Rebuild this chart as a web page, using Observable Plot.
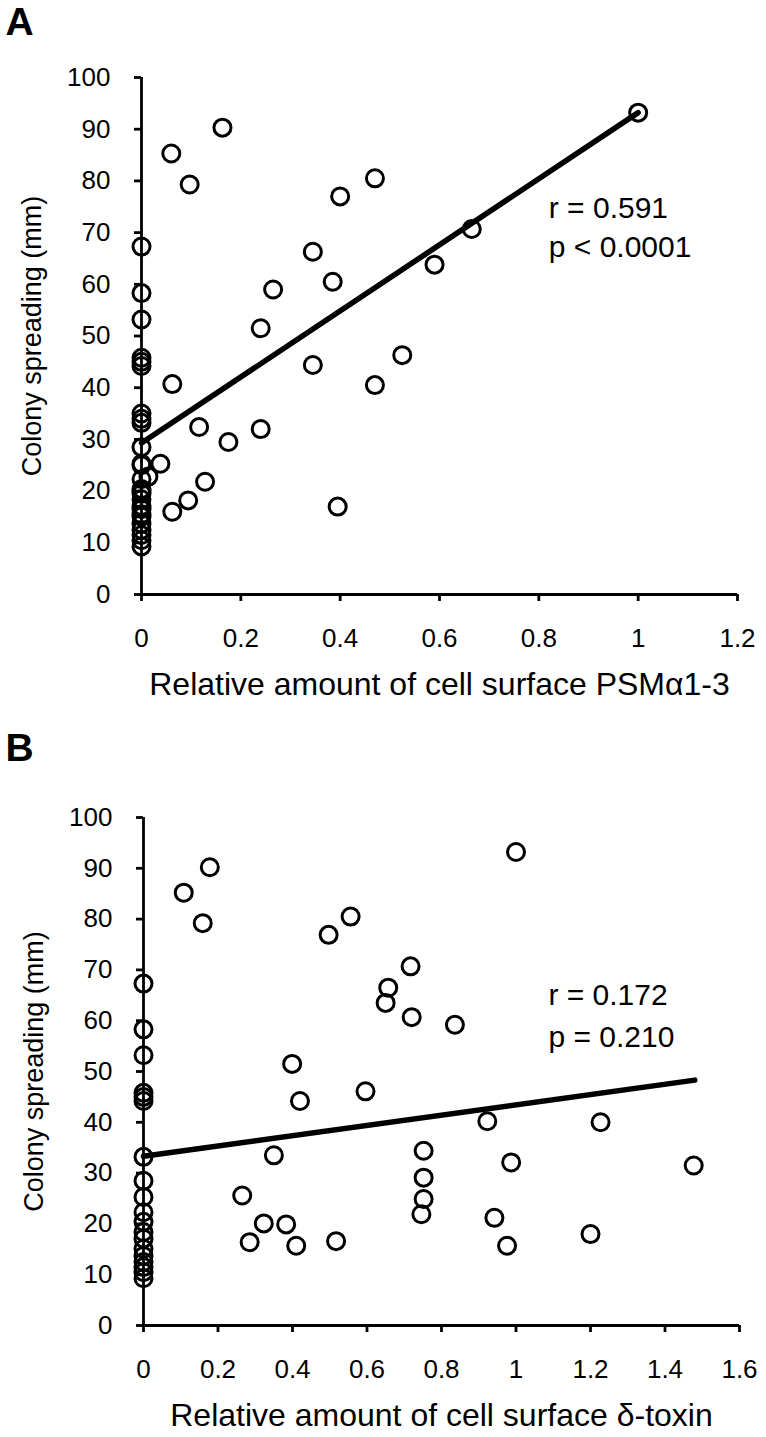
<!DOCTYPE html>
<html><head><meta charset="utf-8">
<script src="https://cdn.jsdelivr.net/npm/d3@7"></script>
<script src="https://cdn.jsdelivr.net/npm/@observablehq/plot@0.6"></script>
<style>
body{margin:0;background:#fff}
#chart svg{display:block}
</style>
</head><body><div id="chart"></div>
<script>
// ---- tick labels ----
const yTicks = [0, 10, 20, 30, 40, 50, 60, 70, 80, 90, 100];
const xTicksA = [0, 0.2, 0.4, 0.6, 0.8, 1, 1.2];
const xTicksB = [0, 0.2, 0.4, 0.6, 0.8, 1, 1.2, 1.4, 1.6];

// ---- panel A: relative amount of cell surface PSMα1-3 vs colony spreading ----
const psmAmount = [
  1.0, 0.665, 0.59, 0.47, 0.40, 0.345, 0.385, 0.265, 0.24, 0.345, 0.525, 0.47, 0.395,
  0.24, 0.175, 0.163, 0.06, 0.097, 0.062, 0.116, 0.038, 0.014, 0.128, 0.094, 0.062,
  0, 0, 0, 0, 0, 0, 0, 0, 0, 0, 0, 0, 0, 0, 0, 0, 0, 0, 0, 0, 0, 0, 0, 0, 0, 0
];
const spreadingA = [
  93.2, 70.7, 63.8, 80.5, 77, 66.3, 60.5, 59, 51.5, 44.4, 46.3, 40.5, 17,
  32, 29.5, 90.3, 85.3, 79.3, 40.7, 32.4, 25.3, 22.8, 21.8, 18.2, 16,
  67.3, 58.3, 53.2, 45.8, 45, 44.2, 35, 34, 33.2, 28.5, 25.3, 25, 22.3, 20.4, 20,
  19.5, 18.4, 17.1, 16.5, 15.5, 15.1, 13.7, 12.5, 11.5, 10.5, 9.3
];
const fitAx = [0, 1.0];
const fitAy = [29.3, 93.2];
const statsA = ["r = 0.591", "p < 0.0001"];

// ---- panel B: relative amount of cell surface δ-toxin vs colony spreading ----
const deltaToxin = [
  1.0, 0.178, 0.108, 0.159, 0.556, 0.497, 0.717, 0.657, 0.65, 0.72, 0.836, 0.399, 0.42,
  0.596, 0.923, 1.227, 0.35, 0.752, 0.987, 1.477, 0.265, 0.752, 0.752, 0.746, 0.323,
  0.383, 0.942, 0.285, 0.41, 0.517, 0.976, 1.2,
  0, 0, 0, 0, 0, 0, 0, 0, 0, 0, 0, 0, 0, 0, 0, 0, 0, 0, 0
];
const spreadingB = [
  93.2, 90.2, 85.2, 79.2, 80.5, 76.9, 70.7, 66.5, 63.5, 60.7, 59.2, 51.5, 44.2,
  46.1, 40.2, 40, 33.5, 34.4, 32.1, 31.5, 25.6, 29.1, 24.9, 21.9, 20.1,
  19.9, 21.2, 16.4, 15.7, 16.6, 15.7, 18,
  67.3, 58.3, 53.2, 45.8, 45, 44.2, 33.2, 28.5, 25.3, 22.3, 20.4, 18.4, 17.1,
  15.1, 13.7, 12.5, 11.5, 10.5, 9.3
];
const fitBx = [0, 1.48];
const fitBy = [33.3, 48.3];
const statsB = ["r = 0.172", "p = 0.210"];

const FONT = "'Liberation Sans', Arial, Helvetica, sans-serif";

function panel({letter, xs, ys, fx, fy, stats, statX, statY, xTicks, xMax, xLabel,
                height, mTop, mBottom, mLeft, mRight, letterDy}) {
  const pts = xs.map((x, i) => ({x, y: ys[i]}));
  const fit = fx.map((x, i) => ({x, y: fy[i]}));
  const ann = stats.map((t, i) => ({x: statX, y: statY[i], t}));
  return Plot.plot({
    width: 766, height,
    marginTop: mTop, marginBottom: mBottom, marginLeft: mLeft, marginRight: mRight,
    style: {fontFamily: FONT, fontSize: "26px", color: "black", background: "white", overflow: "visible"},
    x: {domain: [0, xMax]},
    y: {domain: [0, 100]},
    marks: [
      Plot.axisY({ticks: yTicks, tickSize: 7, tickPadding: 24, strokeWidth: 2.8, fontSize: 26, label: null}),
      Plot.axisX({ticks: xTicks, tickFormat: d => String(d), tickSize: 7, tickPadding: 27, strokeWidth: 2.8, fontSize: 26, label: null}),
      Plot.ruleX([0], {stroke: "black", strokeWidth: 2.8}),
      Plot.ruleY([0], {stroke: "black", strokeWidth: 2.8}),
      Plot.line(fit, {x: "x", y: "y", stroke: "black", strokeWidth: 5.5, strokeLinecap: "round"}),
      Plot.dot(pts, {x: "x", y: "y", r: 8.5, stroke: "black", strokeWidth: 3, fill: "none"}),
      Plot.text(ann, {x: "x", y: "y", text: "t", textAnchor: "start", lineAnchor: "middle", fontSize: 30, fill: "black"}),
      Plot.text([xLabel], {frameAnchor: "bottom", dy: 90, textAnchor: "middle", lineAnchor: "middle", fontSize: 32, fill: "black"}),
      Plot.text(["Colony spreading (mm)"], {frameAnchor: "left", dx: -109, rotate: -90, textAnchor: "middle", lineAnchor: "middle", fontSize: 27, fill: "black"}),
      Plot.text([letter], {frameAnchor: "top-left", dx: 5 - mLeft, dy: letterDy, textAnchor: "start", lineAnchor: "top", fontSize: 39, fontWeight: "bold", fill: "black"})
    ]
  });
}

const chart = document.getElementById("chart");
chart.append(panel({
  letter: "A", xs: psmAmount, ys: spreadingA, fx: fitAx, fy: fitAy,
  stats: statsA, statX: 0.82, statY: [74.7, 67.1], xTicks: xTicksA, xMax: 1.2,
  xLabel: "Relative amount of cell surface PSMα1-3",
  height: 718, mTop: 77, mBottom: 124, mLeft: 141, mRight: 29, letterDy: -70
}));
chart.append(panel({
  letter: "B", xs: deltaToxin, ys: spreadingB, fx: fitBx, fy: fitBy,
  stats: statsB, statX: 1.087, statY: [65, 56.7], xTicks: xTicksB, xMax: 1.6,
  xLabel: "Relative amount of cell surface δ-toxin",
  height: 719, mTop: 99, mBottom: 112, mLeft: 143, mRight: 27, letterDy: -84
}));
</script>
</body></html>
